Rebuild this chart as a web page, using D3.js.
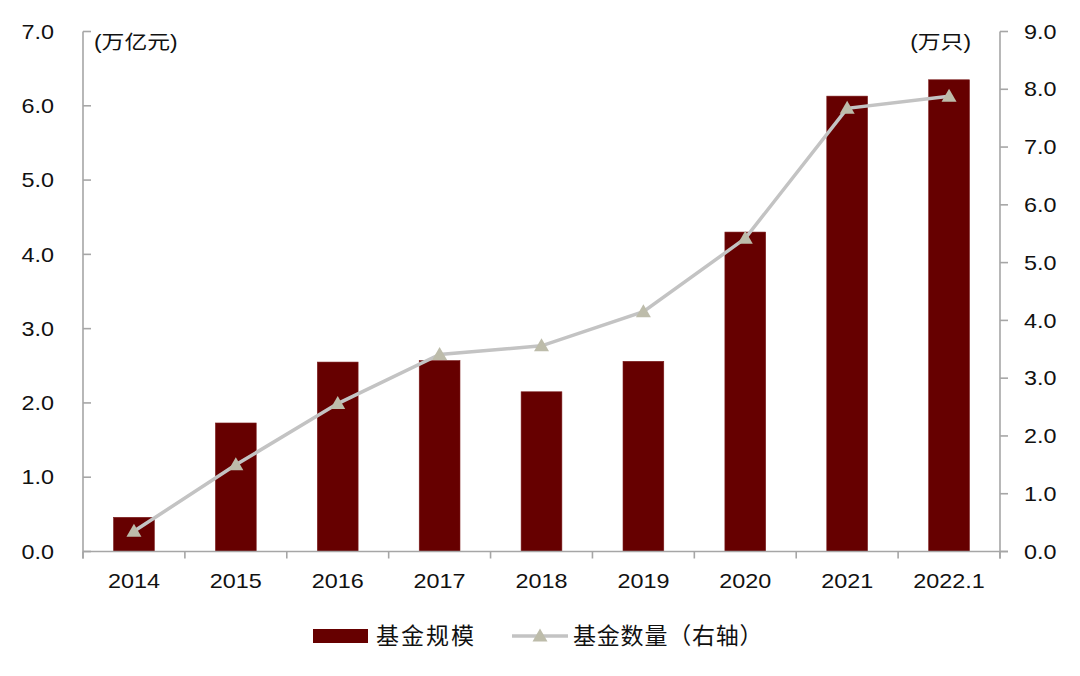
<!DOCTYPE html>
<html><head><meta charset="utf-8">
<script src="https://cdn.jsdelivr.net/npm/d3@7"></script>
<style>body{margin:0;background:#fff}</style>
</head><body>
<svg id="c" width="1080" height="676"></svg>
<script>
const categories = ["2014","2015","2016","2017","2018","2019","2020","2021","2022.1"];
const fundScale = [0.46,1.73,2.55,2.57,2.15,2.56,4.30,6.13,6.35];
const fundCount = [0.35,1.50,2.56,3.41,3.56,4.15,5.42,7.67,7.88];
const leftTicks = [0,1,2,3,4,5,6,7];
const rightTicks = [0,1,2,3,4,5,6,7,8,9];
const seriesNames = ["基金规模","基金数量（右轴）"];
const unitLeft = "(万亿元)", unitRight = "(万只)";

const svg = d3.select("#c");
const L = 83, R = 1000, T = 31.5, B = 551.5;
const numFont = "'Liberation Sans', Arial, sans-serif";
const cjkFont = "'Liberation Sans', 'Noto Sans CJK SC', sans-serif";
const axisColor = "#a6a6a6";
const barColor = "#660000";
const lineColor = "#c3c3c3";
const markColor = "#bdbcaa";
const SX = 1.17;

const x = d3.scaleBand().domain(categories).range([L, R]).paddingInner(0.6).paddingOuter(0.3);
const yL = d3.scaleLinear().domain([0,7]).range([B, T]);
const yR = d3.scaleLinear().domain([0,9]).range([B, T]);

// bars
svg.append("g").selectAll("rect").data(categories).join("rect")
  .attr("x", d => x(d)).attr("width", x.bandwidth())
  .attr("y", (d,i) => yL(fundScale[i])).attr("height", (d,i) => B - yL(fundScale[i]))
  .attr("fill", barColor).attr("stroke", "#7a1a1a").attr("stroke-width", 0.6);

// axes
const axG = svg.append("g").attr("stroke", axisColor).attr("stroke-width", 1.6).attr("fill","none");
axG.append("line").attr("x1", L).attr("x2", L).attr("y1", T).attr("y2", B+7);
axG.append("line").attr("x1", R).attr("x2", R).attr("y1", T).attr("y2", B+7);
axG.append("line").attr("x1", L).attr("x2", R+8).attr("y1", B).attr("y2", B);
leftTicks.forEach(v => axG.append("line").attr("x1", L).attr("x2", L+8).attr("y1", yL(v)).attr("y2", yL(v)));
rightTicks.forEach(v => axG.append("line").attr("x1", R).attr("x2", R+8).attr("y1", yR(v)).attr("y2", yR(v)));
const step = x.step();
d3.range(categories.length+1).forEach(i => {
  const xx = L + i*step;
  axG.append("line").attr("x1", xx).attr("x2", xx).attr("y1", B).attr("y2", B+7);
});

function stretchText(g, px, py, anchor, size, family, str, dy) {
  return g.append("text").attr("transform", `translate(${px},${py}) scale(${SX},1)`)
    .attr("text-anchor", anchor).attr("dy", dy || "0")
    .attr("font-family", family).attr("font-size", size).attr("fill", "#111").text(str);
}

// tick labels
const tl = svg.append("g");
leftTicks.forEach(v => stretchText(tl, 54, yL(v), "end", 20, numFont, v.toFixed(1), "0.36em"));
rightTicks.forEach(v => stretchText(tl, 1024, yR(v), "start", 20, numFont, v.toFixed(1), "0.36em"));
categories.forEach(c => stretchText(tl, x(c) + x.bandwidth()/2, 588, "middle", 20, numFont, c));

// unit labels
stretchText(svg, 94, 49, "start", 19.5, cjkFont, unitLeft);
stretchText(svg, 971, 49, "end", 19.5, cjkFont, unitRight);

// line
const cx = (d) => x(d) + x.bandwidth()/2;
const line = d3.line().x((d,i) => cx(categories[i])).y(d => yR(d));
svg.append("path").datum(fundCount).attr("d", line).attr("fill","none")
  .attr("stroke", lineColor).attr("stroke-width", 3.5);
const tri = "M0,-7.5 L7.5,5.5 L-7.5,5.5 Z";
svg.append("g").selectAll("path").data(fundCount).join("path")
  .attr("transform", (d,i) => `translate(${cx(categories[i])},${yR(d)})`)
  .attr("d", tri).attr("fill", markColor);

// legend
const lg = svg.append("g");
lg.append("rect").attr("x", 313).attr("y", 629).attr("width", 55).attr("height", 14).attr("fill", barColor);
lg.append("text").attr("x", 376).attr("y", 636).attr("dy","0.36em").attr("font-family","'Noto Sans CJK SC', sans-serif")
  .attr("font-size", 23).attr("letter-spacing", 2).attr("fill","#111").text(seriesNames[0]);
lg.append("line").attr("x1", 512).attr("x2", 568).attr("y1", 636).attr("y2", 636).attr("stroke", lineColor).attr("stroke-width", 3.5);
lg.append("path").attr("transform","translate(540,636)").attr("d", tri).attr("fill", markColor);
lg.append("text").attr("x", 573).attr("y", 636).attr("dy","0.36em").attr("font-family","'Noto Sans CJK SC', sans-serif")
  .attr("font-size", 23).attr("letter-spacing", 0.8).attr("fill","#111").text(seriesNames[1]);
</script>
</body></html>
